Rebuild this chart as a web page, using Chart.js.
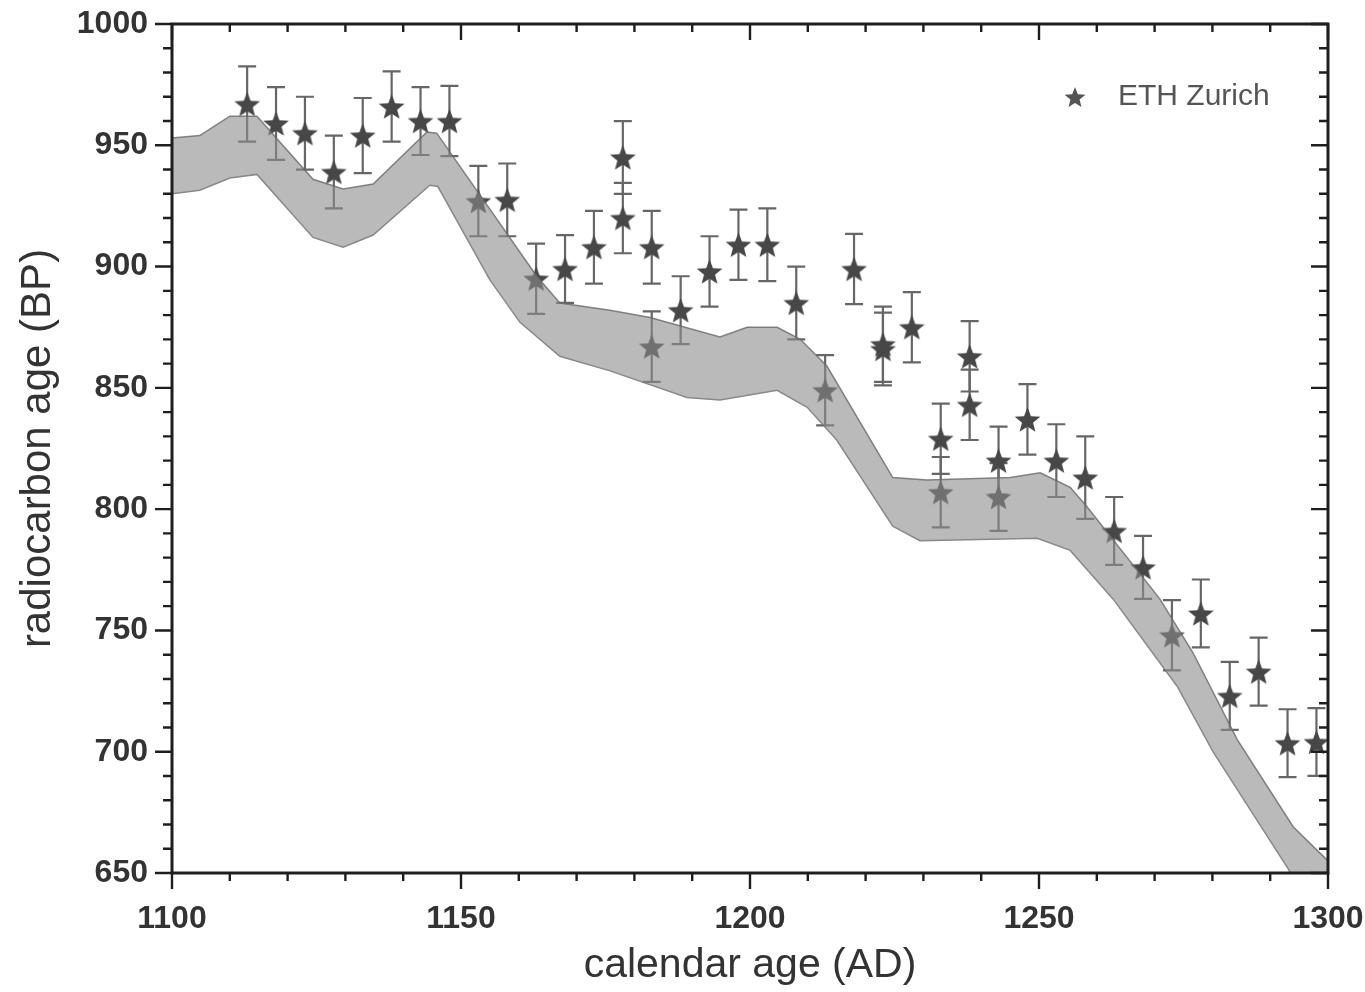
<!DOCTYPE html>
<html>
<head>
<meta charset="utf-8">
<script src="https://cdn.jsdelivr.net/npm/chart.js@4.4.0/dist/chart.umd.min.js"></script>
<style>
  html, body { margin: 0; padding: 0; background: #fff; }
  #wrap { width: 1365px; height: 992px; }
</style>
</head>
<body>
<div id="wrap"><canvas id="chart" width="1365" height="992"></canvas></div>
<script>
// ETH Zurich measurements (calendar year, radiocarbon age, 1 sigma)
const starYears = [1113, 1118, 1123, 1128, 1133, 1138, 1143, 1148, 1153, 1158,
                   1163, 1168, 1173, 1178, 1178, 1183, 1183, 1188, 1193, 1198,
                   1203, 1208, 1213, 1218, 1223, 1223, 1228, 1233, 1233, 1238,
                   1238, 1243, 1243, 1248, 1253, 1258, 1263, 1268, 1273, 1278,
                   1283, 1288, 1293, 1298];
const starAges = [967, 959, 955, 939, 954, 966, 960, 960, 927, 927.5,
                  895, 899, 908, 945, 920, 908, 867, 882, 898, 909,
                  909, 885, 849, 899, 868, 866, 875, 829, 807, 863,
                  843, 820, 805, 837, 820, 813, 791, 776, 748, 757,
                  723, 733, 703.5, 704];
const starErrors = [15.5, 15, 15, 15, 15.5, 14.5, 14, 14.5, 14.5, 15,
                    14.5, 14, 15, 15, 14.5, 15, 14.5, 14, 14.5, 14.5,
                    15, 15, 14.5, 14.5, 15.5, 15, 14.5, 14.5, 14.5, 14.5,
                    14.5, 14, 14, 14.5, 15, 17, 14, 13, 14.5, 14,
                    14, 14, 14, 14];

// calibration curve band (upper and lower edge)
const bandUpperYears = [1100, 1104.8, 1110, 1114.7, 1124.4, 1129.6, 1134.8, 1144.1, 1145.8, 1163.1,
                        1167.1, 1175.8, 1182.7, 1194.8, 1199.5, 1204.7, 1208.7, 1213.3, 1224.7, 1230.6,
                        1245, 1250.2, 1255.4, 1258.3, 1270.9, 1276.6, 1284.3, 1294, 1300];
const bandUpperAges = [953, 954, 962, 962, 936, 932, 934, 955.5, 955, 896,
                       885, 882, 879, 871, 875, 875, 870, 859, 813, 812,
                       813, 815, 809, 801, 763, 741, 705, 669, 655];
const bandLowerYears = [1100, 1104.8, 1110, 1114.7, 1124.4, 1129.6, 1134.8, 1144.6, 1146, 1155,
                        1160.2, 1167.1, 1175.8, 1189.1, 1194.8, 1204.7, 1209.9, 1215, 1224.7, 1229.4,
                        1249.7, 1255.4, 1262.8, 1273.9, 1280.1, 1292.9, 1300];
const bandLowerAges = [930, 931.5, 936.5, 938, 912, 908, 913, 933.5, 933, 894.5,
                       877, 863, 857, 846, 845, 849, 842, 828.5, 793, 787,
                       788, 783, 763, 727, 700, 652.5, 625];

const xMin = 1100, xMax = 1300, xMajor = 50, xMinor = 10;
const yMin = 650, yMax = 1000, yMajor = 50, yMinor = 10;
const legendLabel = 'ETH Zurich';

const fontFamily = "'Liberation Sans', Arial, sans-serif";
const starColor = '#474747';

function makeStar(outer, inner, color) {
    const size = Math.ceil(outer * 2 + 2);
    const c = document.createElement('canvas');
    c.width = size;
    c.height = size;
    const g = c.getContext('2d');
    g.translate(size / 2, size / 2 + outer * 0.1);
    g.beginPath();
    for (let i = 0; i < 10; i++) {
        const r = i % 2 ? inner : outer;
        const a = -Math.PI / 2 + i * Math.PI / 5;
        g.lineTo(r * Math.cos(a), r * Math.sin(a));
    }
    g.closePath();
    g.fillStyle = color;
    g.fill();
    return c;
}

const starImage = makeStar(13.5, 5.8, starColor);
const legendStar = makeStar(11, 4.8, '#555');

// error bars, drawn under everything else
const errorBars = {
    id: 'errorBars',
    beforeDatasetsDraw(chart) {
        const { ctx, chartArea: a, scales: { x, y } } = chart;
        ctx.save();
        ctx.beginPath();
        ctx.rect(a.left, a.top, a.width, a.height);
        ctx.clip();
        ctx.strokeStyle = '#666';
        ctx.lineWidth = 2.2;
        starYears.forEach((yr, i) => {
            const px = x.getPixelForValue(yr);
            const top = y.getPixelForValue(starAges[i] + starErrors[i]);
            const bot = y.getPixelForValue(starAges[i] - starErrors[i]);
            ctx.beginPath();
            ctx.moveTo(px, top); ctx.lineTo(px, bot);
            ctx.moveTo(px - 9, top); ctx.lineTo(px + 9, top);
            ctx.moveTo(px - 9, bot); ctx.lineTo(px + 9, bot);
            ctx.stroke();
        });
        ctx.restore();
    }
};

// box frame with ticks on all four sides, plus legend
const frameTicks = {
    id: 'frameTicks',
    afterDraw(chart) {
        const { ctx, chartArea: a, scales: { x, y } } = chart;
        ctx.save();
        ctx.strokeStyle = '#1e1e1e';
        ctx.lineWidth = 2.4;
        ctx.beginPath();
        for (let v = xMin; v <= xMax; v += xMinor) {
            const px = x.getPixelForValue(v);
            const len = v % xMajor === 0 ? 16 : 8;
            ctx.moveTo(px, a.bottom); ctx.lineTo(px, a.bottom + len);
            ctx.moveTo(px, a.top); ctx.lineTo(px, a.top + len);
        }
        for (let v = yMin; v <= yMax; v += yMinor) {
            const py = y.getPixelForValue(v);
            const len = v % yMajor === 0 ? 17 : 9;
            ctx.moveTo(a.left, py); ctx.lineTo(a.left - len, py);
            ctx.moveTo(a.right, py); ctx.lineTo(a.right - len, py);
        }
        ctx.stroke();
        ctx.lineWidth = 3;
        ctx.strokeRect(a.left, a.top, a.right - a.left, a.bottom - a.top);

        // legend
        const lx = a.right - 253, ly = a.top + 73;
        ctx.drawImage(legendStar, lx - legendStar.width / 2, ly - legendStar.height / 2);
        ctx.fillStyle = '#555';
        ctx.font = '30px ' + fontFamily;
        ctx.textBaseline = 'middle';
        ctx.textAlign = 'left';
        ctx.fillText(legendLabel, lx + 43, ly);
        ctx.restore();
    }
};

new Chart(document.getElementById('chart'), {
    type: 'scatter',
    data: {
        datasets: [
            {
                label: 'band upper',
                data: bandUpperYears.map((yr, i) => ({ x: yr, y: bandUpperAges[i] })),
                showLine: true,
                pointRadius: 0,
                borderColor: 'rgba(105,105,105,0.8)',
                borderWidth: 1.5,
                backgroundColor: 'rgba(140,140,140,0.6)',
                fill: '+1'
            },
            {
                label: 'band lower',
                data: bandLowerYears.map((yr, i) => ({ x: yr, y: bandLowerAges[i] })),
                showLine: true,
                pointRadius: 0,
                borderColor: 'rgba(105,105,105,0.8)',
                borderWidth: 1.5,
                fill: false
            },
            {
                label: legendLabel,
                data: starYears.map((yr, i) => ({ x: yr, y: starAges[i] })),
                pointStyle: starImage,
                pointRadius: 13,
                backgroundColor: starColor,
                borderColor: starColor
            }
        ]
    },
    options: {
        responsive: false,
        animation: false,
        layout: { padding: { top: 24, right: 37, left: 0, bottom: 0 } },
        plugins: {
            legend: { display: false },
            tooltip: { enabled: false }
        },
        scales: {
            x: {
                type: 'linear',
                min: xMin,
                max: xMax,
                grid: { display: false, drawTicks: false },
                border: { display: false },
                ticks: {
                    stepSize: xMajor,
                    padding: 27,
                    color: '#333',
                    font: { family: fontFamily, size: 32, weight: 'bold' },
                    callback: v => String(v)
                },
                title: {
                    display: true,
                    text: 'calendar age (AD)',
                    color: '#333',
                    font: { family: fontFamily, size: 41, lineHeight: 1 },
                    padding: { top: 0, bottom: 6 }
                },
                afterFit(scale) {
                    scale.height = 119;
                    scale.paddingLeft = 0;
                    scale.paddingRight = 0;
                }
            },
            y: {
                type: 'linear',
                min: yMin,
                max: yMax,
                grid: { display: false, drawTicks: false },
                border: { display: false },
                ticks: {
                    stepSize: yMajor,
                    padding: 24,
                    color: '#333',
                    font: { family: fontFamily, size: 32, weight: 'bold' },
                    callback: v => String(v)
                },
                title: {
                    display: true,
                    text: 'radiocarbon age (BP)',
                    color: '#333',
                    font: { family: fontFamily, size: 42, lineHeight: 1 },
                    padding: { top: 17, bottom: 0 }
                },
                afterFit(scale) {
                    scale.width = 172;
                    scale.paddingTop = 0;
                    scale.paddingBottom = 0;
                }
            }
        }
    },
    plugins: [errorBars, frameTicks]
});
</script>
</body>
</html>
